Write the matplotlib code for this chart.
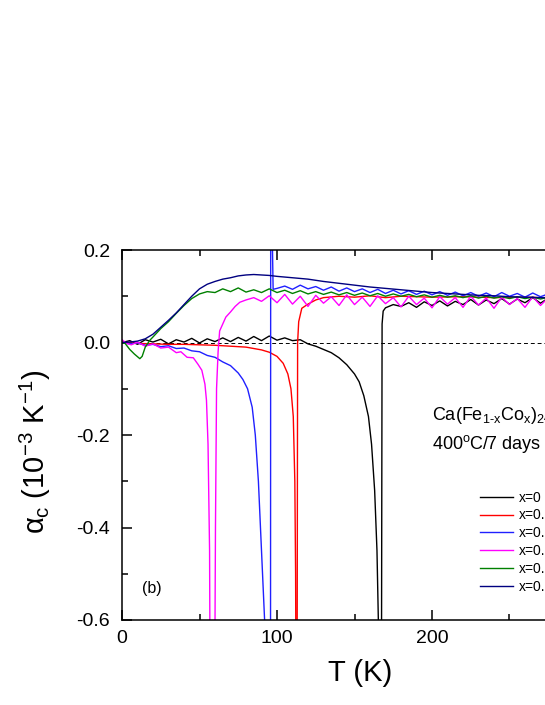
import matplotlib
matplotlib.use('Agg')
import matplotlib.pyplot as plt
from matplotlib.ticker import MultipleLocator, FormatStrFormatter

plt.rcParams['font.family'] = ['Liberation Sans', 'DejaVu Sans']
plt.rcParams['mathtext.fontset'] = 'custom'
plt.rcParams['mathtext.rm'] = 'Liberation Sans'
plt.rcParams['mathtext.it'] = 'Liberation Sans'
plt.rcParams['axes.unicode_minus'] = False

# ---- data (T in K, alpha_c in 1e-3 / K) ----
labels = ['x=0', 'x=0.028', 'x=0.033', 'x=0.036', 'x=0.040', 'x=0.048']
colors = ['#000000', '#FF0000', '#2020FF', '#FF00FF', '#008000', '#000080']

# common high-T grid, 100..300 K every 5 K (41 points)
t_hi = [100, 105, 110, 115, 120, 125, 130, 135, 140, 145,
        150, 155, 160, 165, 170, 175, 180, 185, 190, 195,
        200, 205, 210, 215, 220, 225, 230, 235, 240, 245,
        250, 255, 260, 265, 270, 275, 280, 285, 290, 295,
        300]

# x=0
t_x0 = [0, 5, 10, 15, 20, 25, 30, 35, 40, 45,
        50, 55, 60, 65, 70, 75, 80, 85, 90, 95,
        100, 105, 110, 115, 120, 125, 130, 135, 140, 145,
        150,
        153, 156, 159, 161, 163, 164.5, 165.5, 166, 167.3, 167.8, 168.5, 170,
        175, 180, 185, 190, 195, 200, 205, 210, 215, 220,
        225, 230, 235, 240, 245, 250, 255, 260, 265, 270,
        275, 280, 285, 290, 295, 300]
a_x0 = [0.0, 0.004, -0.004, 0.006, 0.001, 0.007, -0.003, 0.006, 0.001, 0.009,
        -0.001, 0.008, 0.002, 0.010, 0.002, 0.011, 0.003, 0.013, 0.004, 0.014,
        0.005, 0.010, 0.004, 0.006, -0.003, -0.008, -0.015, -0.022, -0.033, -0.048,
        -0.068,
        -0.085, -0.115, -0.16, -0.22, -0.32, -0.45, -0.62, -0.9, -0.9, 0.04, 0.068, 0.075,
        0.082, 0.078, 0.086, 0.076, 0.088, 0.080, 0.090, 0.079, 0.089, 0.082,
        0.093, 0.081, 0.092, 0.084, 0.095, 0.083, 0.094, 0.086, 0.097, 0.085,
        0.096, 0.087, 0.098, 0.086, 0.095, 0.090]

# x=0.028
t_x1 = [0, 10, 20, 30, 40, 50, 60, 70, 80, 90,
        95, 100, 104, 107, 109, 110.5, 111.5, 112.0, 112.4, 112.9,
        113.3, 114, 116, 120, 125, 130,
        140, 150, 160, 170, 180, 200, 220, 240, 260, 280, 300]
a_x1 = [0.0, -0.002, -0.003, -0.004, -0.004, -0.005, -0.006, -0.008, -0.010, -0.016,
        -0.021, -0.030, -0.045, -0.068, -0.10, -0.16, -0.30, -0.50, -0.9, -0.9,
        0.0, 0.045, 0.074, 0.083, 0.092, 0.097,
        0.100, 0.098, 0.101, 0.097, 0.100, 0.098, 0.099, 0.097, 0.098, 0.096, 0.097]

# x=0.033
t_x2 = [0, 5, 10, 15, 20, 25, 30, 35, 40, 45,
        50, 55, 60, 65, 70, 75,
        78, 81, 84, 86, 88, 90, 92, 93, 95.8, 96.0, 96.6, 97.5] + t_hi
a_x2 = [0.0, -0.003, -0.001, -0.006, -0.004, -0.009, -0.007, -0.013, -0.012, -0.018,
        -0.020, -0.028, -0.032, -0.042, -0.050, -0.066,
        -0.080, -0.100, -0.140, -0.20, -0.30, -0.45, -0.60, -0.9, -0.9, 0.9, 0.3, 0.115,
        0.117, 0.122, 0.115, 0.124, 0.116, 0.121, 0.113, 0.120, 0.111, 0.118,
        0.110, 0.116, 0.108, 0.115, 0.106, 0.113, 0.105, 0.112, 0.104, 0.111,
        0.103, 0.110, 0.102, 0.109, 0.101, 0.108, 0.100, 0.107, 0.099, 0.108,
        0.100, 0.106, 0.098, 0.107, 0.099, 0.105, 0.097, 0.106, 0.098, 0.104,
        0.099]

# x=0.036
t_x3 = [0, 3, 6, 10, 15, 20, 25, 30, 35, 38,
        42, 46, 49, 51.5, 53.5, 54.5, 55.5, 56.5, 57.0, 59.6,
        60.3, 61, 62, 63, 65, 67, 70, 73, 76, 80,
        85, 90, 95] + t_hi
a_x3 = [0.006, -0.002, -0.005, 0.001, -0.008, -0.003, -0.012, -0.010, -0.022, -0.020,
        -0.032, -0.033, -0.047, -0.060, -0.090, -0.125, -0.22, -0.45, -0.9, -0.9,
        -0.40, -0.10, -0.02, 0.025, 0.040, 0.055, 0.066, 0.078, 0.087, 0.092,
        0.097, 0.089, 0.101,
        0.086, 0.104, 0.083, 0.100, 0.078, 0.102, 0.085, 0.099, 0.080, 0.103,
        0.082, 0.098, 0.078, 0.101, 0.084, 0.097, 0.077, 0.100, 0.082, 0.096,
        0.075, 0.099, 0.083, 0.097, 0.076, 0.100, 0.081, 0.096, 0.074, 0.098,
        0.082, 0.095, 0.076, 0.099, 0.080, 0.097, 0.075, 0.098, 0.081, 0.094,
        0.083]

# x=0.040
t_x4 = [0, 2, 5, 8, 11.5, 13, 15, 18, 20, 25,
        30, 35, 40, 45, 50, 55, 60, 65, 70, 75, 80, 85, 90, 95] + t_hi
a_x4 = [0.0, -0.002, -0.015, -0.025, -0.035, -0.030, -0.010, 0.005, 0.012, 0.030,
        0.045, 0.063, 0.080, 0.095, 0.105, 0.110, 0.108, 0.116, 0.110, 0.118,
        0.109, 0.114, 0.108, 0.116,
        0.108, 0.113, 0.106, 0.112, 0.105, 0.110, 0.104, 0.109, 0.103, 0.108,
        0.102, 0.107, 0.101, 0.106, 0.100, 0.105, 0.100, 0.104, 0.099, 0.103,
        0.098, 0.102, 0.098, 0.101, 0.097, 0.101, 0.096, 0.100, 0.096, 0.099,
        0.095, 0.099, 0.095, 0.098, 0.094, 0.098, 0.094, 0.097, 0.093, 0.097,
        0.093]

# x=0.048
t_x5 = [0, 5, 10, 15, 20, 25, 30, 35, 40, 45,
        50, 55, 60, 65, 70, 75, 80, 85, 90, 95,
        100,
        110, 120, 130, 140, 150, 160, 170, 180, 190, 200,
        210, 220, 230, 240, 250, 260, 270, 280, 290, 300]
a_x5 = [0.0, 0.001, 0.003, 0.008, 0.018, 0.033, 0.048, 0.064, 0.082, 0.100,
        0.116, 0.126, 0.132, 0.137, 0.140, 0.144, 0.146, 0.147, 0.146, 0.145,
        0.143,
        0.140, 0.137, 0.132, 0.128, 0.124, 0.120, 0.117, 0.114, 0.111, 0.108,
        0.106, 0.104, 0.102, 0.101, 0.099, 0.098, 0.097, 0.097, 0.096, 0.096]

series_t = [t_x0, t_x1, t_x2, t_x3, t_x4, t_x5]
series_a = [a_x0, a_x1, a_x2, a_x3, a_x4, a_x5]

fig = plt.figure(figsize=(5.45, 7.05), dpi=100)
# axes runs past the right edge, as in the cropped original
ax = fig.add_axes([122/545, 85/705, 465/545, 370/705])

ax.axhline(0, color='k', ls='--', lw=0.7, dashes=(4, 3), zorder=1)
for t, a, c, lab in zip(series_t, series_a, colors, labels):
    ax.plot(t, a, color=c, lw=1.0, label=lab, zorder=2)

ax.set_xlim(0, 300)
ax.set_ylim(-0.6, 0.2)
ax.xaxis.set_major_locator(MultipleLocator(100))
ax.xaxis.set_minor_locator(MultipleLocator(50))
ax.yaxis.set_major_locator(MultipleLocator(0.2))
ax.yaxis.set_minor_locator(MultipleLocator(0.1))
ax.yaxis.set_major_formatter(FormatStrFormatter('%.1f'))
ax.tick_params(which='both', direction='in', top=True, right=True, width=1.1,
               labelsize=14)
ax.tick_params(which='major', length=7)
ax.tick_params(axis='x', which='major', pad=7)
ax.tick_params(axis='y', which='major', pad=8.5)
ax.tick_params(which='minor', length=4)
for sp in ax.spines.values():
    sp.set_linewidth(1.1)

ax.set_xlabel('T (K)', fontsize=21)
ax.xaxis.set_label_coords(0.512, -0.105)
ax.set_ylabel(r'$\alpha_c$ (10$^{-3}$ K$^{-1}$)', fontsize=21)
ax.yaxis.set_label_coords(-0.148, 0.454)

ax.text(0.043, 0.084, '(b)', transform=ax.transAxes, fontsize=11.5, va='center')
ax.text(0.667, 0.54, r'Ca(Fe$_{1\text{-}x}$Co$_x$)$_2$As$_2$', transform=ax.transAxes,
        fontsize=13, va='baseline')
ax.text(0.667, 0.462, r'400$^\mathrm{o}$C/7 days', transform=ax.transAxes,
        fontsize=13, va='baseline')

ax.legend(loc='upper left', bbox_to_anchor=(480/545, (705 - 490.5)/705),
          bbox_transform=fig.transFigure, frameon=False, fontsize=10,
          handlelength=2.4, handletextpad=0.4, labelspacing=0.28,
          borderpad=0, borderaxespad=0)

fig.savefig('out.png', dpi=100)
